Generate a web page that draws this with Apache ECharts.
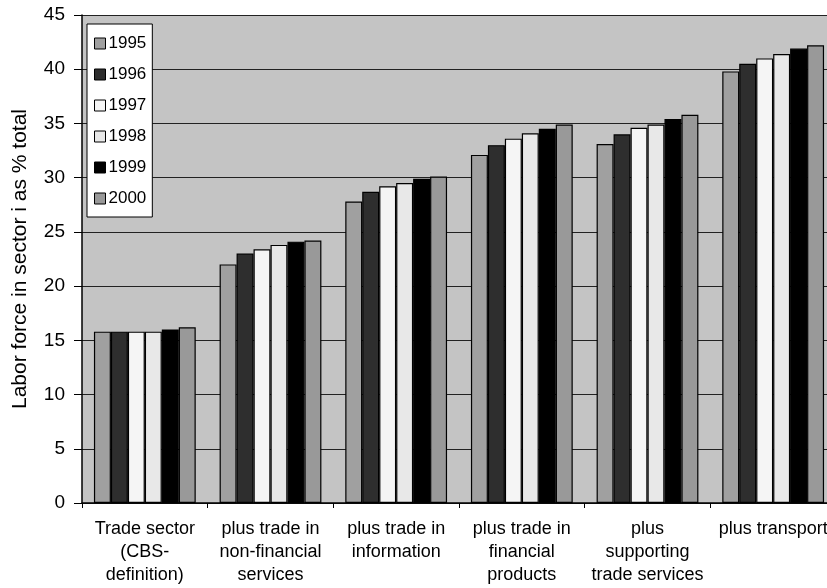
<!DOCTYPE html>
<html>
<head>
<meta charset="utf-8">
<script src="https://cdn.jsdelivr.net/npm/echarts@6/dist/echarts.min.js"></script>
<style>
  html, body { margin: 0; padding: 0; background: #fff; }
  #chart { width: 827px; height: 588px; }
</style>
</head>
<body>
<div id="chart"></div>
<script>
// categories (x axis)
var sectors = [
  'Trade sector\n(CBS-\ndefinition)',
  'plus trade in\nnon-financial\nservices',
  'plus trade in\ninformation',
  'plus trade in\nfinancial\nproducts',
  'plus\nsupporting\ntrade services',
  'plus transport'
];
var years = ['1995', '1996', '1997', '1998', '1999', '2000'];

// values per year, one per sector
var v1995 = [15.8, 22.0, 27.8, 32.1, 33.1, 39.8];
var v1996 = [15.8, 23.0, 28.7, 33.0, 34.0, 40.5];
var v1997 = [15.8, 23.4, 29.2, 33.6, 34.6, 41.0];
var v1998 = [15.8, 23.8, 29.5, 34.1, 34.9, 41.4];
var v1999 = [16.0, 24.1, 29.9, 34.5, 35.4, 41.9];
var v2000 = [16.2, 24.2, 30.1, 34.9, 35.8, 42.2];

var allValues = [v1995, v1996, v1997, v1998, v1999, v2000];
var barColors = ['#a0a0a0', '#2e2e2e', '#f5f5f5', '#e8e8e8', '#000000', '#999999'];

var series = [];
for (var i = 0; i < years.length; i++) {
  series.push({
    name: years[i],
    type: 'bar',
    data: allValues[i],
    barGap: '0%',
    barCategoryGap: '19%',
    itemStyle: { color: barColors[i], borderColor: '#000', borderWidth: 1.2 }
  });
}

var myChart = echarts.init(document.getElementById('chart'));

var option = {
  animation: false,
  textStyle: { fontFamily: 'Liberation Sans, Arial, sans-serif', color: '#000' },
  grid: {
    left: 82, top: 15, bottom: 85, right: -9,
    outerBoundsMode: 'none',
    containLabel: false,
    show: true, backgroundColor: '#c4c4c4', borderWidth: 0
  },
  legend: {
    orient: 'vertical',
    left: 87, top: 24,
    backgroundColor: '#fff',
    borderColor: '#000', borderWidth: 1,
    padding: [11, 6, 10, 7],
    itemWidth: 11, itemHeight: 11, itemGap: 14,
    icon: 'rect',
    itemStyle: { borderColor: '#000', borderWidth: 1 },
    textStyle: { fontSize: 17, color: '#000', padding: [0, 0, 0, -2] },
    data: years
  },
  xAxis: {
    type: 'category',
    data: sectors,
    axisLine: { lineStyle: { color: '#000', width: 1.5 } },
    axisTick: { show: true, alignWithLabel: false, length: 5, lineStyle: { color: '#000' } },
    axisLabel: { fontSize: 18, color: '#000', lineHeight: 23, margin: 15, interval: 0 }
  },
  yAxis: {
    type: 'value',
    min: 0, max: 45, interval: 5,
    name: 'Labor force in sector i as % total',
    nameLocation: 'middle',
    nameGap: 51,
    nameTextStyle: { fontSize: 21, color: '#000' },
    axisLine: { show: true, lineStyle: { color: '#000', width: 1.5 } },
    axisTick: { show: true, length: 8, lineStyle: { color: '#000' } },
    axisLabel: { fontSize: 19, color: '#000', margin: 17 },
    splitLine: { lineStyle: { color: '#222', width: 1 } }
  },
  series: series
};

myChart.setOption(option);
</script>
</body>
</html>
